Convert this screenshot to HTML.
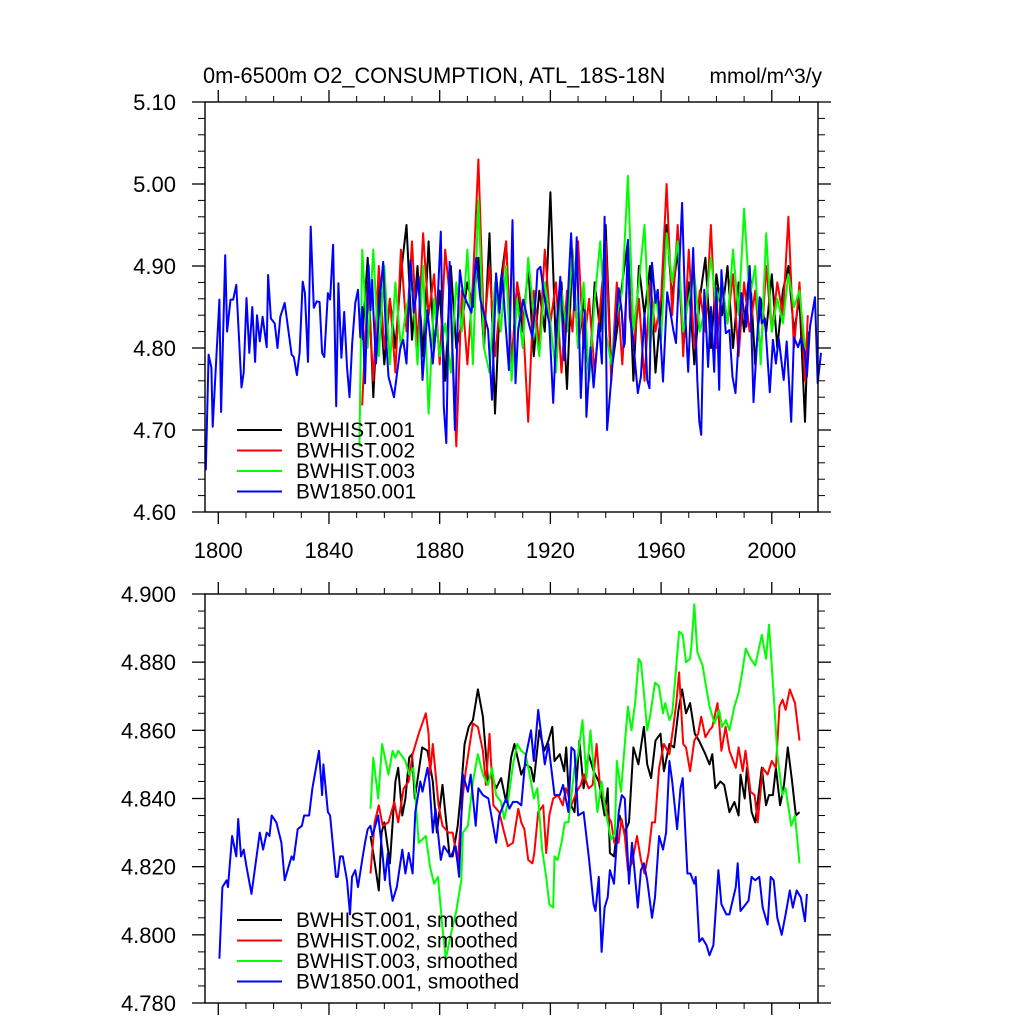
<!DOCTYPE html>
<html><head><meta charset="utf-8">
<style>
html,body{margin:0;padding:0;background:#fff;}
svg{display:block;font-family:"Liberation Sans",sans-serif;}
</style></head>
<body>
<svg id="chart" width="1024" height="1024" viewBox="0 0 1024 1024" xmlns="http://www.w3.org/2000/svg">
<rect width="1024" height="1024" fill="#fff"/>
<text x="203" y="83" font-size="21.8">0m-6500m O2_CONSUMPTION, ATL_18S-18N</text>
<text x="822" y="83" font-size="21" text-anchor="end">mmol/m^3/y</text>
<g id="top"></g>
<g id="bot"></g>
</svg>
<script>
// ---------- data: top panel (annual) ----------
const blueYears=[1795.5,1796.5,1797.5,1798,1800.4,1801,1802.5,1803.2,1804.4,1805.4,1806.5,1808.4,1809.2,1810.2,1811.2,1812.3,1813.3,1814,1815,1816,1817.5,1818,1819,1820.4,1821.4,1822.4,1824,1826.5,1827.3,1828.4,1829.4,1830.5,1831.3,1832.4,1833.4,1834.5,1835.6,1836.6,1837.5,1838.3,1839.6,1840.4,1841.5,1842.6,1843.4,1844.5,1845.5,1846.5,1847.4,1848.4,1849.5,1850.5,1851.3,1852,1853,1854.3,1855,1855.6,1856,1857,1858.4,1859.6,1860.6,1861.5,1863.5,1865.8,1866.8,1868,1869.5,1870.6,1872.4,1873.8,1875.6,1877.5,1879,1880.4,1881.5,1882.4,1883.6,1885,1885.5,1886.5,1887.3,1888.4,1889.8,1891.5,1893.2,1894.7,1897.5,1898.9,1900.4,1901.6,1902.6,1903.8,1905,1906.3,1907.4,1908.4,1910.2,1911.6,1913.5,1915,1915.3,1916.4,1917.8,1919.6,1921,1922.2,1923.6,1925,1926.3,1927.5,1928.7,1929.5,1931,1932.4,1933,1934.5,1935.6,1937.5,1938.6,1939.6,1940.5,1944.7,1945.8,1946.5,1946.9,1948,1948.7,1949.8,1951.6,1952.7,1954,1955,1955.8,1956.7,1958,1958.8,1960.7,1962.2,1964.4,1965.4,1967.6,1968.8,1969.8,1971.6,1973.1,1973.8,1974.5,1975.6,1977,1978,1979.2,1980,1981,1981.8,1983.4,1984.7,1985.8,1986.9,1989,1990.8,1992,1993.4,1995.6,1996.4,1997.5,1999.3,2000.4,2001.5,2002.5,2004.3,2005.4,2007,2008,2009.5,2010.5,2012,2012.7,2013.8,2015.6,2016.6,2017.8];
const blueVals=[4.651,4.792,4.776,4.704,4.859,4.722,4.913,4.820,4.859,4.859,4.877,4.752,4.770,4.861,4.794,4.850,4.783,4.840,4.808,4.838,4.801,4.889,4.836,4.830,4.800,4.838,4.855,4.792,4.789,4.767,4.794,4.881,4.867,4.783,4.948,4.849,4.857,4.856,4.794,4.789,4.867,4.859,4.926,4.729,4.879,4.788,4.844,4.777,4.740,4.806,4.855,4.871,4.813,4.850,4.757,4.901,4.846,4.883,4.846,4.781,4.862,4.905,4.813,4.765,4.740,4.801,4.810,4.781,4.907,4.843,4.887,4.761,4.846,4.781,4.838,4.942,4.728,4.684,4.905,4.757,4.700,4.832,4.895,4.867,4.856,4.843,4.910,4.859,4.822,4.737,4.891,4.843,4.891,4.830,4.773,4.956,4.757,4.824,4.859,4.838,4.813,4.874,4.895,4.899,4.862,4.830,4.733,4.826,4.887,4.785,4.862,4.940,4.846,4.935,4.739,4.846,4.716,4.801,4.752,4.830,4.781,4.960,4.700,4.873,4.844,4.801,4.806,4.932,4.838,4.813,4.745,4.765,4.843,4.761,4.751,4.904,4.855,4.871,4.759,4.868,4.822,4.806,4.977,4.838,4.771,4.922,4.761,4.710,4.694,4.871,4.777,4.850,4.771,4.873,4.749,4.895,4.818,4.822,4.765,4.745,4.867,4.826,4.899,4.734,4.862,4.830,4.836,4.746,4.810,4.781,4.812,4.761,4.808,4.710,4.813,4.801,4.812,4.794,4.765,4.826,4.862,4.757,4.794];
const histYears=[1852,1854,1856,1858,1860,1862,1864,1866,1868,1870,1872,1874,1876,1878,1880,1882,1884,1886,1888,1890,1892,1894,1896,1898,1900,1902,1904,1906,1908,1910,1912,1914,1916,1918,1920,1922,1924,1926,1928,1930,1932,1934,1936,1938,1940,1942,1944,1946,1948,1950,1952,1954,1956,1958,1960,1962,1964,1966,1968,1970,1972,1974,1976,1978,1980,1982,1984,1986,1988,1990,1992,1994,1996,1998,2000,2002,2004,2006,2008,2010,2012,2013];
const blackVals=[4.81,4.91,4.74,4.88,4.78,4.86,4.80,4.89,4.95,4.81,4.90,4.79,4.93,4.80,4.87,4.76,4.90,4.80,4.83,4.88,4.85,4.91,4.80,4.94,4.72,4.88,4.93,4.78,4.88,4.82,4.90,4.79,4.87,4.82,4.99,4.80,4.88,4.75,4.92,4.80,4.86,4.76,4.88,4.82,4.95,4.77,4.82,4.88,4.93,4.76,4.90,4.84,4.90,4.77,4.85,4.95,4.86,4.92,4.80,4.88,4.78,4.86,4.91,4.80,4.89,4.84,4.90,4.80,4.88,4.82,4.90,4.78,4.86,4.82,4.89,4.80,4.87,4.90,4.82,4.86,4.71,4.82];
const redVals=[4.73,4.88,4.76,4.90,4.80,4.86,4.77,4.92,4.82,4.93,4.80,4.94,4.84,4.89,4.78,4.92,4.85,4.68,4.87,4.78,4.88,5.03,4.82,4.90,4.79,4.86,4.93,4.78,4.88,4.84,4.71,4.87,4.80,4.92,4.83,4.88,4.77,4.87,4.82,4.93,4.80,4.86,4.77,4.85,4.93,4.76,4.88,4.78,4.90,4.80,4.86,4.76,4.88,4.82,4.86,5.00,4.84,4.95,4.79,4.92,4.80,4.87,4.82,4.95,4.80,4.88,4.83,4.89,4.79,4.88,4.82,4.87,4.79,4.90,4.82,4.88,4.84,4.96,4.80,4.88,4.76,4.84];
const greenYears=[1851,1852,1854,1856,1858,1860,1862,1864,1866,1868,1870,1872,1874,1876,1878,1880,1882,1884,1886,1888,1890,1892,1894,1896,1898,1900,1902,1904,1906,1908,1910,1912,1914,1916,1918,1920,1922,1924,1926,1928,1930,1932,1934,1936,1938,1940,1942,1944,1946,1948,1950,1952,1954,1956,1958,1960,1962,1964,1966,1968,1970,1972,1974,1976,1978,1980,1982,1984,1986,1988,1990,1992,1994,1996,1998,2000,2002,2004,2006,2008,2010,2012];
const greenVals=[4.68,4.92,4.80,4.92,4.79,4.90,4.78,4.88,4.80,4.85,4.88,4.78,4.90,4.72,4.86,4.79,4.83,4.77,4.88,4.82,4.92,4.78,4.98,4.80,4.77,4.88,4.82,4.90,4.76,4.86,4.80,4.91,4.84,4.79,4.88,4.83,4.77,4.87,4.82,4.92,4.80,4.88,4.76,4.86,4.93,4.82,4.78,4.84,4.87,5.01,4.82,4.88,4.95,4.80,4.87,4.81,4.94,4.88,4.93,4.82,4.86,4.89,4.82,4.85,4.91,4.85,4.88,4.83,4.92,4.84,4.97,4.86,4.90,4.78,4.94,4.82,4.86,4.83,4.89,4.85,4.87,4.80];

// ---------- data: bottom panel (smoothed) ----------
const sBlueYears=[1800.4,1801.5,1803,1803.5,1805,1806.5,1807.2,1808.2,1809.2,1810.2,1812,1815,1816.2,1817.5,1818.5,1819.3,1821,1822.8,1824,1826.5,1827.2,1828.7,1830.2,1831,1832.8,1834,1836.4,1837.5,1838,1839.6,1840.4,1842.5,1843.2,1844,1845,1846.5,1847.6,1848.3,1849.5,1850.5,1852,1853,1854,1855,1855.7,1857.8,1859.2,1860.2,1861.3,1862,1863,1864.5,1866.5,1867.6,1868.8,1870.2,1871.2,1873,1873.8,1875.6,1876.3,1877.5,1878.5,1880.4,1881.5,1884,1885.8,1887,1888.4,1890.2,1891.2,1893,1894,1895.6,1897.6,1900.4,1901.5,1904,1905.2,1906.5,1908,1909.5,1911,1913,1914,1915.6,1918,1919.3,1921.5,1923.4,1924.6,1926.5,1927.6,1928.7,1930,1932,1934,1935.6,1936.3,1937.5,1938.5,1939.6,1940.7,1941.5,1943,1944.7,1945.8,1946.9,1948.4,1949.5,1951.6,1952.7,1953.8,1955,1956.7,1957.8,1959.3,1960.7,1961.8,1963,1964,1965.8,1967,1967.8,1969.5,1970.6,1972,1972.5,1973.8,1974.9,1976.4,1977.5,1978.9,1980.7,1981.8,1983.6,1984.7,1987,1987.7,1988.7,1991.6,1992.7,1994,1995.5,1996.7,1998.5,1999.6,2000.7,2002,2003.6,2005,2006.5,2007.6,2009,2010.5,2012,2012.7];
const sBlueVals=[4.793,4.814,4.816,4.814,4.829,4.823,4.834,4.823,4.825,4.820,4.812,4.830,4.825,4.830,4.829,4.835,4.833,4.827,4.816,4.823,4.822,4.831,4.832,4.835,4.835,4.843,4.854,4.841,4.850,4.836,4.835,4.817,4.817,4.823,4.823,4.816,4.806,4.817,4.819,4.814,4.822,4.827,4.831,4.832,4.829,4.835,4.825,4.816,4.824,4.815,4.810,4.814,4.825,4.818,4.824,4.818,4.836,4.845,4.842,4.849,4.845,4.830,4.837,4.822,4.826,4.823,4.826,4.817,4.847,4.842,4.847,4.832,4.843,4.841,4.840,4.827,4.835,4.840,4.837,4.839,4.839,4.838,4.852,4.860,4.851,4.866,4.850,4.856,4.841,4.841,4.844,4.836,4.855,4.854,4.835,4.836,4.822,4.809,4.807,4.817,4.795,4.808,4.811,4.819,4.815,4.836,4.841,4.840,4.815,4.827,4.808,4.819,4.821,4.816,4.805,4.811,4.829,4.825,4.830,4.851,4.845,4.831,4.843,4.846,4.818,4.818,4.815,4.817,4.798,4.799,4.797,4.794,4.797,4.819,4.809,4.806,4.806,4.814,4.821,4.807,4.810,4.817,4.816,4.817,4.808,4.803,4.817,4.816,4.805,4.800,4.806,4.813,4.808,4.813,4.811,4.804,4.812];
const sBlackYears=[1855,1856,1858,1859,1860,1862,1864,1865,1866.5,1867.6,1869,1870,1871,1873.7,1875.6,1877.5,1879,1881,1882.4,1883.6,1884.7,1886.5,1887.6,1889,1890.5,1892,1893.8,1895.6,1897.5,1898.6,1900.4,1902.2,1904,1905.8,1907,1908.4,1909.5,1911,1913,1914,1916,1917.8,1919.3,1920.7,1921.5,1923.4,1925,1925.7,1926.8,1928.7,1930.5,1932,1933.8,1935.6,1937.5,1939.6,1940.7,1941.5,1943,1944,1945,1946.9,1948.4,1950,1951.8,1953.8,1955,1956.4,1958,1959.8,1961,1963,1964.7,1966.3,1967.6,1969,1970.5,1972.2,1973.7,1976,1977.5,1978.5,1979.6,1981.4,1982.8,1984.7,1986.5,1988,1988.7,1990.2,1991,1992.7,1994,1996.4,1997.9,1999,2000.4,2001.5,2003,2004.4,2005.8,2007.2,2008.7,2010];
const sBlackVals=[4.829,4.824,4.813,4.830,4.833,4.821,4.845,4.849,4.835,4.840,4.852,4.853,4.840,4.855,4.854,4.845,4.830,4.844,4.833,4.823,4.823,4.832,4.841,4.856,4.861,4.863,4.872,4.864,4.845,4.847,4.843,4.846,4.839,4.852,4.856,4.851,4.847,4.850,4.849,4.845,4.860,4.854,4.857,4.861,4.851,4.853,4.848,4.855,4.839,4.836,4.857,4.843,4.853,4.848,4.845,4.835,4.843,4.824,4.823,4.830,4.835,4.830,4.833,4.855,4.850,4.861,4.850,4.846,4.857,4.859,4.848,4.856,4.855,4.866,4.872,4.865,4.868,4.859,4.857,4.853,4.850,4.853,4.843,4.845,4.844,4.836,4.839,4.835,4.847,4.840,4.849,4.836,4.833,4.849,4.838,4.841,4.841,4.849,4.838,4.844,4.855,4.846,4.835,4.836];
const sRedYears=[1855,1856.5,1858,1859.4,1861.5,1863.6,1865,1867,1868.8,1870.2,1872.4,1875,1876,1876.5,1877.5,1879.6,1881,1883.2,1884.7,1886.5,1888.4,1889.4,1892,1893.8,1895.6,1896.7,1898,1899.4,1901.5,1903.3,1904.6,1906.5,1908.4,1909.5,1910.6,1912,1913.5,1914.2,1915.6,1917.4,1918.5,1919.6,1921,1922.8,1924.5,1925.6,1927.6,1929.5,1931,1932,1933.8,1935.3,1936.7,1937.8,1939.6,1940.7,1942,1943.1,1944.6,1945.7,1946.9,1948,1949.5,1951.3,1952.7,1954,1955.5,1956.7,1957.8,1959.3,1961,1963,1964.4,1965.5,1966.5,1968,1969,1970.5,1972,1973.4,1974.5,1976,1977.5,1978.5,1980.4,1981.8,1983.3,1984.7,1987,1988,1989.5,1990.5,1992.3,1993.8,1994.9,1996.7,1998.5,2000,2001.5,2002.8,2003.9,2005,2006.5,2008.4,2010];
const sRedVals=[4.818,4.833,4.838,4.832,4.833,4.839,4.833,4.843,4.845,4.853,4.859,4.865,4.859,4.847,4.856,4.838,4.832,4.830,4.830,4.821,4.841,4.848,4.862,4.861,4.854,4.844,4.859,4.838,4.836,4.830,4.826,4.827,4.837,4.833,4.831,4.822,4.821,4.824,4.836,4.838,4.824,4.835,4.840,4.841,4.838,4.843,4.838,4.842,4.844,4.847,4.843,4.844,4.856,4.845,4.839,4.835,4.833,4.827,4.827,4.834,4.829,4.819,4.821,4.829,4.822,4.818,4.824,4.833,4.833,4.849,4.856,4.853,4.861,4.868,4.877,4.856,4.855,4.848,4.857,4.859,4.864,4.858,4.860,4.861,4.868,4.854,4.861,4.854,4.849,4.855,4.848,4.854,4.842,4.841,4.833,4.849,4.847,4.851,4.849,4.867,4.869,4.866,4.872,4.868,4.857];
const sGreenYears=[1855,1856,1857.8,1859.2,1861.5,1863,1864,1865,1867.6,1869,1870.5,1872.4,1875,1876.5,1878,1879.4,1881,1882.2,1884,1886,1887.8,1888.4,1890.2,1892,1893.8,1895.6,1897.5,1898.9,1900.4,1902.2,1903.3,1904.7,1906.5,1908,1909.5,1911,1913,1914,1915.3,1917,1918.5,1919.6,1921,1921.5,1922.6,1924,1925.2,1926.5,1928.7,1930,1931.6,1933,1934.5,1935.9,1937,1938.5,1939.6,1941,1941.9,1943.3,1944,1945.5,1946.5,1948,1949.3,1950.6,1951.9,1952.7,1953.8,1955,1956,1957.8,1959.2,1960.7,1961.5,1963,1964,1965,1966.5,1967.8,1969,1970.5,1971,1972,1973.1,1975,1976,1977.5,1979.3,1981,1982,1983.4,1984.7,1986.5,1988,1989.1,1990.6,1992.4,1994,1996.4,1997.9,1999,2000.8,2002,2003.8,2005,2007,2008.4,2010];
const sGreenVals=[4.837,4.852,4.840,4.856,4.847,4.854,4.852,4.854,4.851,4.847,4.849,4.827,4.829,4.820,4.815,4.817,4.802,4.793,4.800,4.807,4.816,4.830,4.832,4.845,4.853,4.847,4.844,4.849,4.841,4.839,4.834,4.839,4.850,4.856,4.854,4.853,4.845,4.840,4.843,4.825,4.817,4.809,4.808,4.823,4.822,4.827,4.833,4.833,4.849,4.853,4.863,4.846,4.860,4.846,4.836,4.845,4.838,4.832,4.828,4.830,4.851,4.842,4.852,4.867,4.860,4.868,4.881,4.880,4.871,4.860,4.864,4.874,4.873,4.865,4.868,4.863,4.865,4.874,4.889,4.888,4.880,4.881,4.885,4.897,4.883,4.879,4.874,4.867,4.862,4.866,4.861,4.863,4.860,4.867,4.871,4.876,4.884,4.881,4.879,4.888,4.881,4.891,4.869,4.853,4.841,4.843,4.832,4.835,4.821];

const topTicks=["5.10","5.00","4.90","4.80","4.70","4.60"];
const botTicks=["4.900","4.880","4.860","4.840","4.820","4.800","4.780"];
const xTickYears=[1800,1840,1880,1920,1960,2000];

const NS="http://www.w3.org/2000/svg";
const X0=205,X1=818,YR0=1795.2,YR1=2016.7;
function xs(yr){return X0+(yr-YR0)/(YR1-YR0)*(X1-X0);}
function mk(tag,attrs,parent){const e=document.createElementNS(NS,tag);for(const k in attrs)e.setAttribute(k,attrs[k]);parent.appendChild(e);return e;}

function panel(g,top,bottom,vmin,vmax,major,minorN,labels,showXLabels,series,legend,legendY){
  const ys=v=>bottom-(v-vmin)/(vmax-vmin)*(bottom-top);
  series.forEach(s=>{
    const d=s.years.map((y,i)=>(i?'L':'M')+xs(y).toFixed(1)+','+ys(s.vals[i]).toFixed(1)).join('');
    const p=mk('path',{d:d,fill:'none',stroke:s.color,'stroke-width':2,'stroke-linejoin':'round'},g);
    
    
  });
  const fr=mk('rect',{x:X0,y:top,width:X1-X0,height:bottom-top,fill:'none',stroke:'#000','stroke-width':1.4},g);
  
  
  const nMaj=Math.round((vmax-vmin)/major);
  for(let i=0;i<=nMaj;i++){
    const v=vmin+i*major,y=ys(v);
    mk('line',{x1:X0-13,x2:X0,y1:y,y2:y,stroke:'#000','stroke-width':1.3},g);
    mk('line',{x1:X1,x2:X1+13,y1:y,y2:y,stroke:'#000','stroke-width':1.3},g);
    if(i<nMaj){for(let j=1;j<=minorN;j++){const yy=ys(v+j*major/(minorN+1));
      mk('line',{x1:X0-7,x2:X0,y1:yy,y2:yy,stroke:'#000','stroke-width':1},g);
      mk('line',{x1:X1,x2:X1+7,y1:yy,y2:yy,stroke:'#000','stroke-width':1},g);}}
  }
  labels.forEach((lab,i)=>{
    const t=mk('text',{x:176,y:top+i*(bottom-top)/(labels.length-1)+8,'font-size':22,'text-anchor':'end'},g);
    t.textContent=lab;
    
    
  });
  for(let yr=1800;yr<=2010;yr+=10){
    const x=xs(yr),maj=(yr-1800)%40===0,L=maj?12:6;
    mk('line',{x1:x,x2:x,y1:bottom,y2:bottom+L,stroke:'#000','stroke-width':maj?1.3:1},g);
    mk('line',{x1:x,x2:x,y1:top-L,y2:top,stroke:'#000','stroke-width':maj?1.3:1},g);
  }
  if(showXLabels){xTickYears.forEach(yr=>{
    const t=mk('text',{x:xs(yr),y:bottom+46,'font-size':22,'text-anchor':'middle'},g);
    t.textContent=String(yr);
    
    
  });}
  legend.forEach((lab,i)=>{
    const y=legendY+i*20.5;
    const lg=mk('g',{},g);
    
    
    mk('line',{x1:237,x2:282,y1:y,y2:y,stroke:series[i].color,'stroke-width':2},lg);
    const t=mk('text',{x:296,y:y+7,'font-size':20.8},lg);
    t.textContent=lab;
  });
}
const topSeries=[
  {name:'bwhist-001',color:'#000',years:histYears,vals:blackVals},
  {name:'bwhist-002',color:'#f00',years:histYears,vals:redVals},
  {name:'bwhist-003',color:'#0f0',years:greenYears,vals:greenVals},
  {name:'bw1850-001',color:'#00f',years:blueYears,vals:blueVals}];
const botSeries=[
  {name:'bwhist-001-smoothed',color:'#000',years:sBlackYears,vals:sBlackVals},
  {name:'bwhist-002-smoothed',color:'#f00',years:sRedYears,vals:sRedVals},
  {name:'bwhist-003-smoothed',color:'#0f0',years:sGreenYears,vals:sGreenVals},
  {name:'bw1850-001-smoothed',color:'#00f',years:sBlueYears,vals:sBlueVals}];
panel(document.getElementById('top'),102,512,4.60,5.10,0.1,4,topTicks,true,topSeries,
  ["BWHIST.001","BWHIST.002","BWHIST.003","BW1850.001"],430);
panel(document.getElementById('bot'),594,1003,4.780,4.900,0.02,3,botTicks,false,botSeries,
  ["BWHIST.001, smoothed","BWHIST.002, smoothed","BWHIST.003, smoothed","BW1850.001, smoothed"],920);
</script>
</body></html>
